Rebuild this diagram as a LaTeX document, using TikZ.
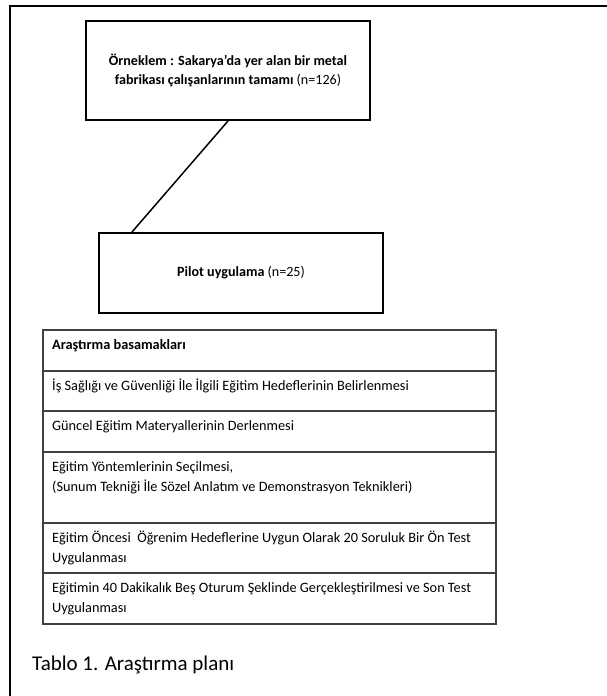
\documentclass[tikz,border=0pt]{standalone}
\usepackage{fontspec}
\setmainfont{Carlito}
\usetikzlibrary{positioning}
\definecolor{rulegrey}{HTML}{404040}

\begin{document}
\begin{tikzpicture}[x=1pt, y=-1pt,
    box/.style={rectangle, draw=black, line width=2pt, minimum width=284pt, align=center, font=\fontsize{14.1}{19}\selectfont},
    rowbox/.style={rectangle, draw=rulegrey, line width=1.4pt, minimum width=453pt, anchor=north west, inner sep=0pt, outer sep=0pt},
    rowtext/.style={anchor=north west, inner sep=0pt, align=left, font=\fontsize{14.3}{20}\selectfont}
]
    \useasboundingbox (0,0) rectangle (607,696);
    % Frame (cut off at right and bottom)
    \draw[line width=2pt] (9.5,696) -- (9.5,6) -- (607,6);

    % Sample and pilot
    \node[box, minimum height=99pt] (sample) at (228,70.5) {\textbf{Örneklem : Sakarya’da yer alan bir metal}\\ \textbf{fabrikası çalışanlarının tamamı} (n=126)};
    \node[box, minimum height=80pt] (pilot) at (241,273) {\textbf{Pilot uygulama} (n=25)};
    \draw[line width=1.5pt] (sample.south) -- ([xshift=34pt]pilot.north west);

    % Steps table
    \node[rowbox, minimum height=41pt] (head) at (43,330) {};
    \node[rowbox, minimum height=40pt, below=0pt of head] (goals) {};
    \node[rowbox, minimum height=41pt, below=0pt of goals] (material) {};
    \node[rowbox, minimum height=71pt, below=0pt of material] (method) {};
    \node[rowbox, minimum height=50pt, below=0pt of method] (pretest) {};
    \node[rowbox, minimum height=51pt, below=0pt of pretest] (training) {};

    \node[rowtext] (headtext) at ([xshift=9pt, yshift=-5pt]head.north west) {\strut\textbf{Araştırma basamakları}};
    \node[rowtext] (goalstext) at ([xshift=9pt, yshift=-5pt]goals.north west) {\strut İş Sağlığı ve Güvenliği İle İlgili Eğitim Hedeflerinin Belirlenmesi};
    \node[rowtext] (materialtext) at ([xshift=9pt, yshift=-5pt]material.north west) {\strut Güncel Eğitim Materyallerinin Derlenmesi};
    \node[rowtext] (methodtext) at ([xshift=9pt, yshift=-5pt]method.north west) {\strut Eğitim Yöntemlerinin Seçilmesi,\\(Sunum Tekniği İle Sözel Anlatım ve Demonstrasyon Teknikleri)};
    \node[rowtext] (pretesttext) at ([xshift=9pt, yshift=-5pt]pretest.north west) {\strut Eğitim Öncesi~ Öğrenim Hedeflerine Uygun Olarak 20 Soruluk Bir Ön Test\\Uygulanması};
    \node[rowtext] (trainingtext) at ([xshift=9pt, yshift=-5pt]training.north west) {\strut Eğitimin 40 Dakikalık Beş Oturum Şeklinde Gerçekleştirilmesi ve Son Test\\Uygulanması};

    % Caption
    \node[anchor=west, inner sep=0pt, font=\fontsize{21}{24}\selectfont] (caption) at (32,665) {Tablo 1. Araştırma planı};
\end{tikzpicture}
\end{document}
